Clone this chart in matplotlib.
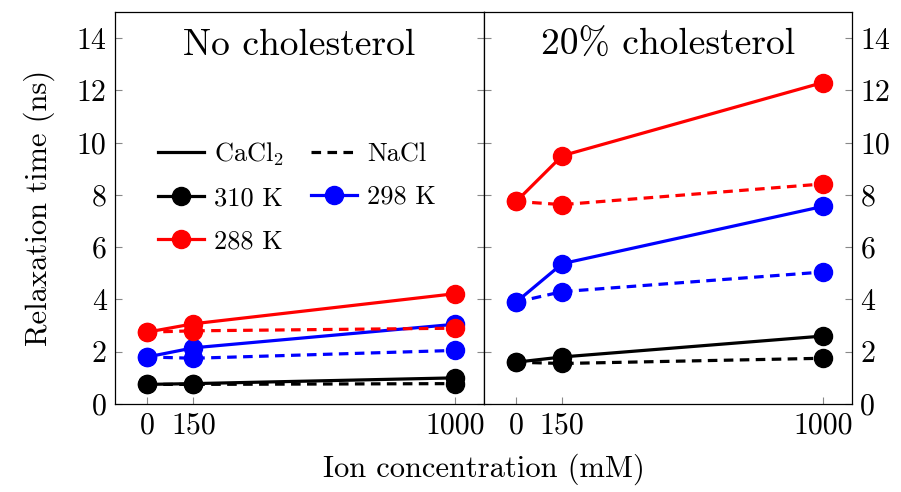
import matplotlib.pyplot as plt
from matplotlib.lines import Line2D

plt.rcParams['font.family'] = 'cmr10'
plt.rcParams['mathtext.fontset'] = 'cm'
plt.rcParams['axes.formatter.use_mathtext'] = True

conc = [0, 150, 1000]

# no cholesterol
no_ca_310 = [0.75, 0.78, 1.0]
no_na_310 = [0.75, 0.75, 0.78]
no_ca_298 = [1.8, 2.15, 3.05]
no_na_298 = [1.8, 1.75, 2.05]
no_ca_288 = [2.75, 3.07, 4.22]
no_na_288 = [2.75, 2.8, 2.9]

# 20% cholesterol
ch_ca_310 = [1.6, 1.8, 2.6]
ch_na_310 = [1.6, 1.55, 1.75]
ch_ca_298 = [3.9, 5.37, 7.56]
ch_na_298 = [3.9, 4.3, 5.05]
ch_ca_288 = [7.75, 9.5, 12.3]
ch_na_288 = [7.75, 7.63, 8.42]

yticks = [0, 2, 4, 6, 8, 10, 12, 14]

fig = plt.figure(figsize=(9.01, 4.92), dpi=100)
ax1 = fig.add_axes([115/901, 88/492, 369/901, 392/492])
ax2 = fig.add_axes([484/901, 88/492, 368/901, 392/492])

lw = 2.3
ms = 13
dash = (3.0, 2.0)

def panel(ax, ca, na, title):
    for vals_ca, vals_na, c in zip(ca, na, ['black', 'blue', 'red']):
        ax.plot(conc, vals_na, '--', color=c, lw=lw, marker='o', ms=ms, dashes=dash)
        ax.plot(conc, vals_ca, '-', color=c, lw=lw, marker='o', ms=ms)
    ax.set_xlim(-105, 1095)
    ax.set_ylim(0, 15)
    ax.set_xticks(conc)
    ax.set_xticklabels(['0', '150', '1000'])
    ax.set_yticks(yticks)
    ax.set_yticklabels([str(t) for t in yticks])
    ax.tick_params(direction='in', length=5, color='#888888', labelsize=21.5,
                   left=True, right=True, top=False, pad=6)
    ax.text(0.5, 0.915, title, transform=ax.transAxes, ha='center', va='center',
            fontsize=27)
    for s in ax.spines.values():
        s.set_linewidth(0.9)

panel(ax1, [no_ca_310, no_ca_298, no_ca_288], [no_na_310, no_na_298, no_na_288], 'No cholesterol')
panel(ax2, [ch_ca_310, ch_ca_298, ch_ca_288], [ch_na_310, ch_na_298, ch_na_288], '20% cholesterol')

ax1.tick_params(labelleft=True, labelright=False)
ax2.tick_params(labelleft=False, labelright=True)

ax1.set_ylabel('Relaxation time (ns)', fontsize=22, labelpad=16)
fig.text(484/901, 1 - 469/492, 'Ion concentration (mM)', ha='center', va='center', fontsize=22)

handles = [
    Line2D([], [], color='black', lw=lw),
    Line2D([], [], color='black', lw=lw, marker='o', ms=ms),
    Line2D([], [], color='red', lw=lw, marker='o', ms=ms),
    Line2D([], [], color='black', lw=lw, ls='--', dashes=dash),
    Line2D([], [], color='blue', lw=lw, marker='o', ms=ms),
]
labels = ['CaCl$_2$', '310 K', '288 K', 'NaCl', '298 K']
ax1.legend(handles, labels, ncol=2, frameon=False, fontsize=19,
           loc='upper left', bbox_to_anchor=(0.088, 0.70),
           handlelength=1.75, handletextpad=0.38, columnspacing=1.0,
           labelspacing=0.72, borderaxespad=0)

fig.savefig('out.png', dpi=100)
